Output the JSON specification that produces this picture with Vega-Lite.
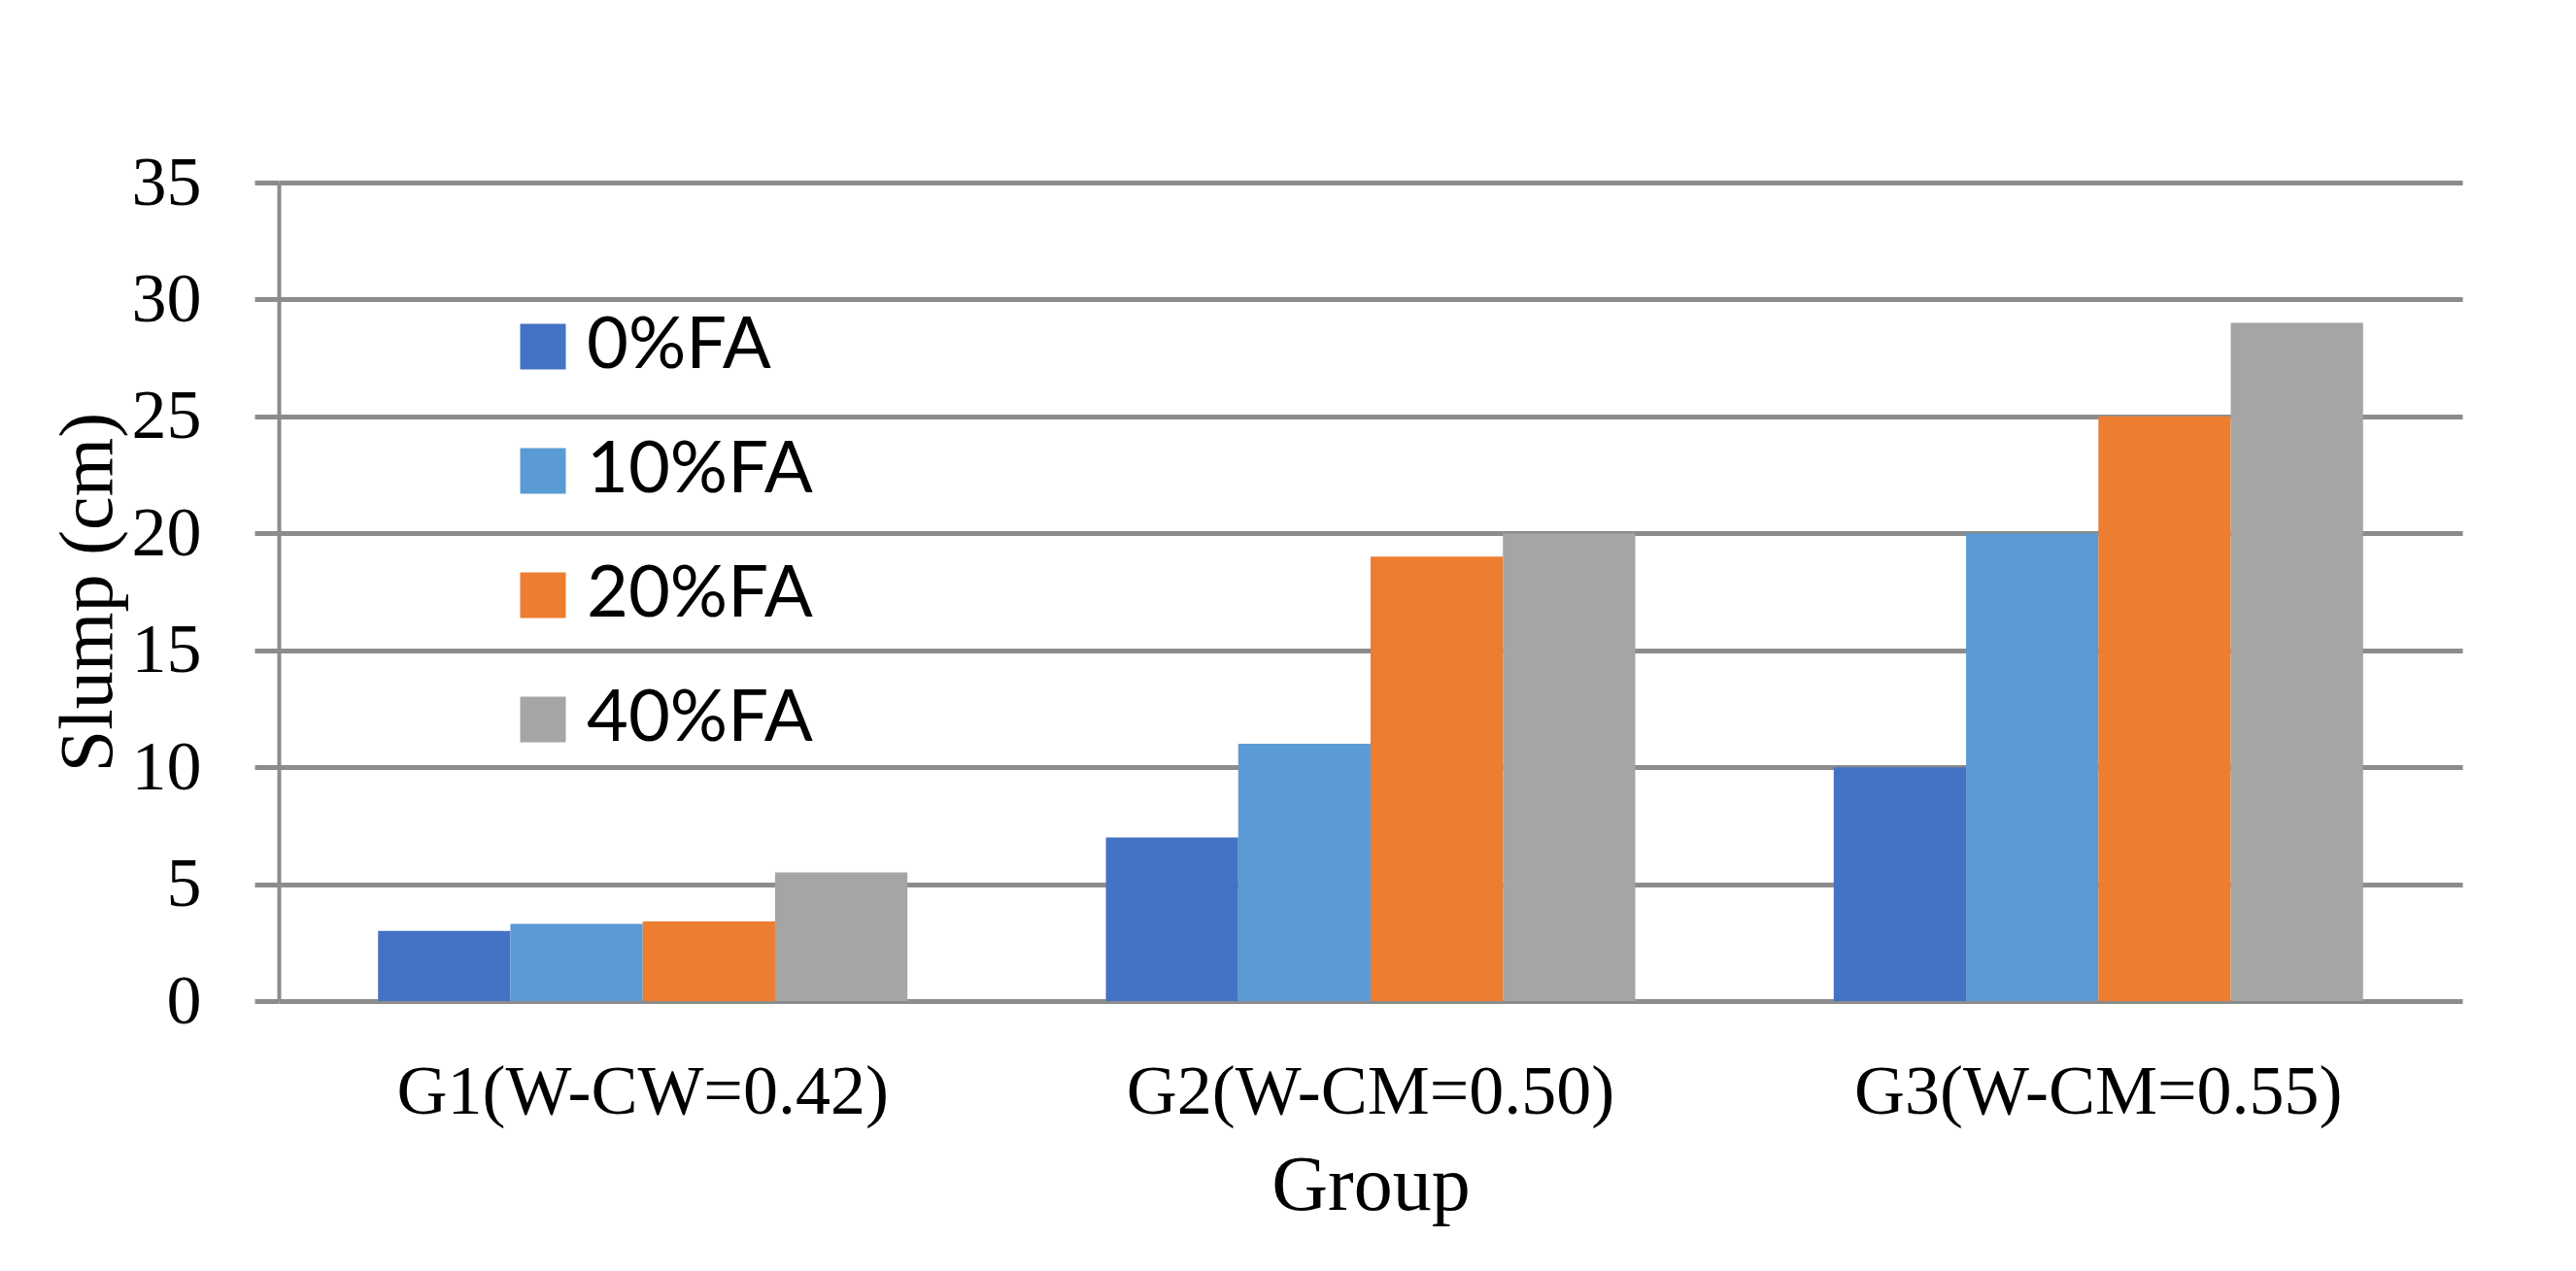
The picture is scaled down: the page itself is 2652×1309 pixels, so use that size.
{
  "$schema": "https://vega.github.io/schema/vega-lite/v6.json",
  "width": 2248,
  "height": 843,
  "autosize": {"type": "none"},
  "padding": {"left": 287, "top": 188, "right": 117, "bottom": 278},
  "background": "white",
  "data": {
    "values": [
      {"group": "G1(W-CW=0.42)", "series": "0%FA", "value": 3.0},
      {"group": "G1(W-CW=0.42)", "series": "10%FA", "value": 3.3},
      {"group": "G1(W-CW=0.42)", "series": "20%FA", "value": 3.4},
      {"group": "G1(W-CW=0.42)", "series": "40%FA", "value": 5.5},
      {"group": "G2(W-CM=0.50)", "series": "0%FA", "value": 7.0},
      {"group": "G2(W-CM=0.50)", "series": "10%FA", "value": 11.0},
      {"group": "G2(W-CM=0.50)", "series": "20%FA", "value": 19.0},
      {"group": "G2(W-CM=0.50)", "series": "40%FA", "value": 20.0},
      {"group": "G3(W-CM=0.55)", "series": "0%FA", "value": 10.0},
      {"group": "G3(W-CM=0.55)", "series": "10%FA", "value": 20.0},
      {"group": "G3(W-CM=0.55)", "series": "20%FA", "value": 25.0},
      {"group": "G3(W-CM=0.55)", "series": "40%FA", "value": 29.0}
    ]
  },
  "mark": {"type": "bar"},
  "encoding": {
    "x": {
      "field": "group",
      "type": "nominal",
      "sort": ["G1(W-CW=0.42)", "G2(W-CM=0.50)", "G3(W-CM=0.55)"],
      "scale": {"paddingInner": 0.2727, "paddingOuter": 0.1364},
      "axis": {
        "title": "Group",
        "labelAngle": 0,
        "labelLimit": 2000,
        "labelFont": "Liberation Serif",
        "labelFontSize": 72,
        "labelColor": "black",
        "labelPadding": 58,
        "labelBaseline": "top",
        "titleFont": "Liberation Serif",
        "titleFontSize": 80,
        "titleFontWeight": "normal",
        "titleColor": "black",
        "titlePadding": 22,
        "domain": false,
        "ticks": false,
        "grid": false
      }
    },
    "xOffset": {
      "field": "series",
      "type": "nominal",
      "sort": ["0%FA", "10%FA", "20%FA", "40%FA"],
      "scale": {"paddingInner": 0, "paddingOuter": 0}
    },
    "y": {
      "field": "value",
      "type": "quantitative",
      "scale": {"domain": [0, 35], "nice": false},
      "axis": {
        "title": "Slump (cm)",
        "values": [0, 5, 10, 15, 20, 25, 30, 35],
        "labelFont": "Liberation Serif",
        "labelFontSize": 72,
        "labelColor": "black",
        "labelPadding": 55,
        "titleFont": "Liberation Serif",
        "titleFontSize": 78,
        "titleFontWeight": "normal",
        "titleColor": "black",
        "titlePadding": 5,
        "grid": true,
        "gridColor": "#8c8c8c",
        "gridWidth": 5,
        "gridOpacity": 1,
        "ticks": true,
        "tickSize": 25,
        "tickWidth": 5,
        "tickColor": "#8c8c8c",
        "domain": true,
        "domainColor": "#8c8c8c",
        "domainWidth": 4
      }
    },
    "color": {
      "field": "series",
      "type": "nominal",
      "sort": ["0%FA", "10%FA", "20%FA", "40%FA"],
      "scale": {
        "domain": ["0%FA", "10%FA", "20%FA", "40%FA"],
        "range": ["#4472C4", "#5B9BD5", "#ED7D31", "#A5A5A5"]
      },
      "legend": {
        "title": null,
        "orient": "none",
        "legendX": 235,
        "legendY": 132,
        "symbolType": "square",
        "symbolSize": 2209,
        "symbolStrokeWidth": 0,
        "labelFont": "Lato",
        "labelFontSize": 74,
        "labelColor": "black",
        "labelOffset": 8,
        "rowPadding": 54,
        "labelLimit": 1000
      }
    }
  },
  "config": {
    "view": {"stroke": null}
  }
}
